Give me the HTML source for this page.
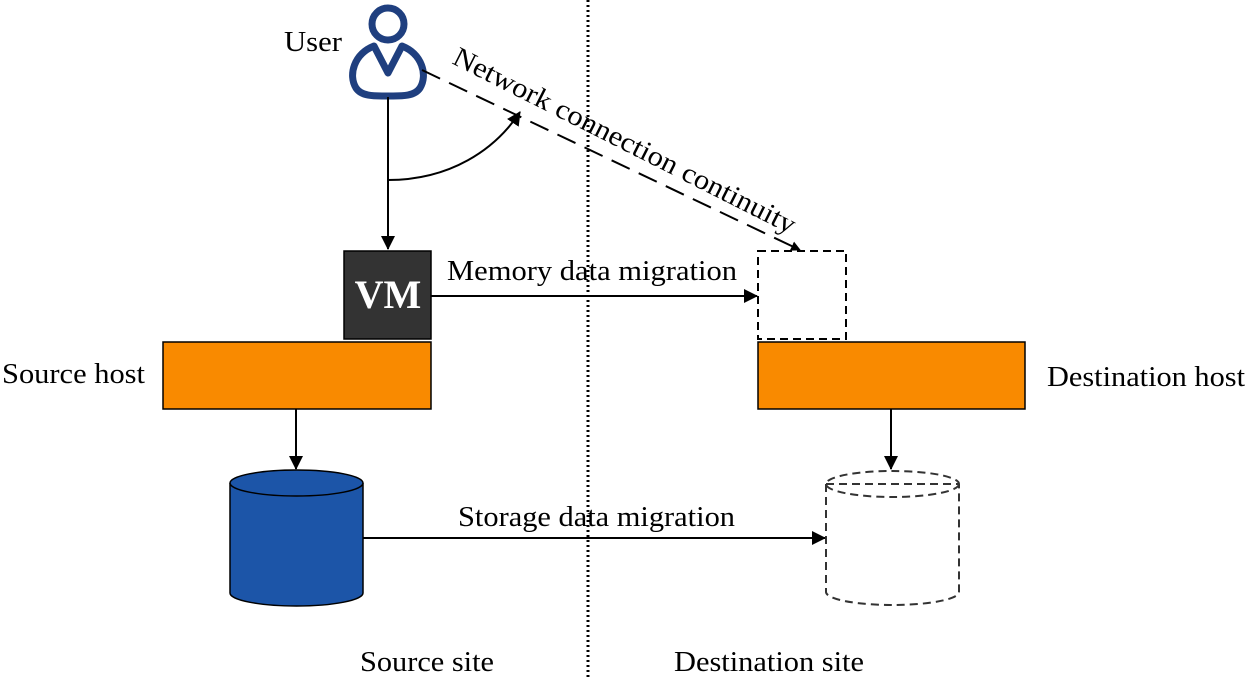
<!DOCTYPE html>
<html><head><style>body{margin:0;background:#fff}svg{display:block}</style></head><body>
<svg width="1250" height="679" viewBox="0 0 1250 679" xmlns="http://www.w3.org/2000/svg" font-family="Liberation Serif, serif">
<defs><marker id="a" markerWidth="10" markerHeight="10" refX="9" refY="5" orient="auto" markerUnits="userSpaceOnUse"><path d="M0,0 L10,5 L0,10 z" fill="#000"/></marker>
<marker id="b" markerWidth="14" markerHeight="14" refX="13" refY="7" orient="auto" markerUnits="userSpaceOnUse"><path d="M0,0 L14,7 L0,14 z" fill="#000"/></marker></defs>
<line x1="588" y1="0" x2="588" y2="679" stroke="#000" stroke-width="3" stroke-dasharray="2,3"/>
<!-- user -->
<circle cx="388" cy="24" r="16" fill="none" stroke="#1f3f7f" stroke-width="7"/>
<path d="M374,46 L388,73 L402,46 C422,54 428,75 420,88 C414,97 400,96 388,96 C376,96 362,97 356,88 C348,75 354,54 374,46 z" fill="none" stroke="#1f3f7f" stroke-width="7" stroke-linejoin="round"/>
<text x="284" y="51" font-size="28" textLength="58" lengthAdjust="spacingAndGlyphs">User</text>
<line x1="388" y1="97" x2="388" y2="249" stroke="#000" stroke-width="2" marker-end="url(#b)"/>
<path d="M388,180 C450,180 495,150 520,112" fill="none" stroke="#000" stroke-width="2" marker-end="url(#b)"/>
<line x1="422" y1="70" x2="800" y2="250" stroke="#000" stroke-width="2" stroke-dasharray="20,10" marker-end="url(#a)"/>
<text font-size="28" transform="translate(451,63) rotate(26.8)" textLength="380" lengthAdjust="spacingAndGlyphs">Network connection continuity</text>
<!-- VM -->
<rect x="344" y="251" width="87" height="88" fill="#333" stroke="#000" stroke-width="1.5"/>
<text x="388" y="308" font-size="40" font-weight="bold" fill="#fff" text-anchor="middle">VM</text>
<line x1="431" y1="296" x2="757" y2="296" stroke="#000" stroke-width="2" marker-end="url(#b)"/>
<text x="447" y="280" font-size="28" textLength="290" lengthAdjust="spacingAndGlyphs">Memory data migration</text>
<rect x="758" y="251" width="88" height="88" fill="none" stroke="#000" stroke-width="2" stroke-dasharray="8,5"/>
<!-- hosts -->
<rect x="163" y="342" width="268" height="67" fill="#f98a00" stroke="#000" stroke-width="1.5"/>
<rect x="758" y="342" width="267" height="67" fill="#f98a00" stroke="#000" stroke-width="1.5"/>
<text x="2" y="383" font-size="28" textLength="143" lengthAdjust="spacingAndGlyphs">Source host</text>
<text x="1047" y="386" font-size="28" textLength="198" lengthAdjust="spacingAndGlyphs">Destination host</text>
<line x1="296" y1="409" x2="296" y2="469" stroke="#000" stroke-width="2" marker-end="url(#b)"/>
<line x1="891" y1="409" x2="891" y2="469" stroke="#000" stroke-width="2" marker-end="url(#b)"/>
<!-- cylinders -->
<path d="M230,483 L230,593 A66.5,13 0 0 0 363,593 L363,483" fill="#1c55a8" stroke="#000" stroke-width="1.5"/>
<ellipse cx="296.5" cy="483" rx="66.5" ry="13" fill="#1c55a8" stroke="#000" stroke-width="1.5"/>
<path d="M826,484 L826,592 A66.5,13 0 0 0 959,592 L959,484" fill="none" stroke="#333" stroke-width="2" stroke-dasharray="8,5"/>
<ellipse cx="892.5" cy="484" rx="66.5" ry="13" fill="none" stroke="#333" stroke-width="2" stroke-dasharray="8,5"/>
<line x1="826" y1="484" x2="959" y2="484" stroke="#333" stroke-width="2" stroke-dasharray="8,5"/>
<line x1="363" y1="538" x2="825" y2="538" stroke="#000" stroke-width="2" marker-end="url(#b)"/>
<text x="458" y="526" font-size="28" textLength="277" lengthAdjust="spacingAndGlyphs">Storage data migration</text>
<text x="360" y="671" font-size="28" textLength="134" lengthAdjust="spacingAndGlyphs">Source site</text>
<text x="674" y="671" font-size="28" textLength="190" lengthAdjust="spacingAndGlyphs">Destination site</text>
</svg>
</body></html>
